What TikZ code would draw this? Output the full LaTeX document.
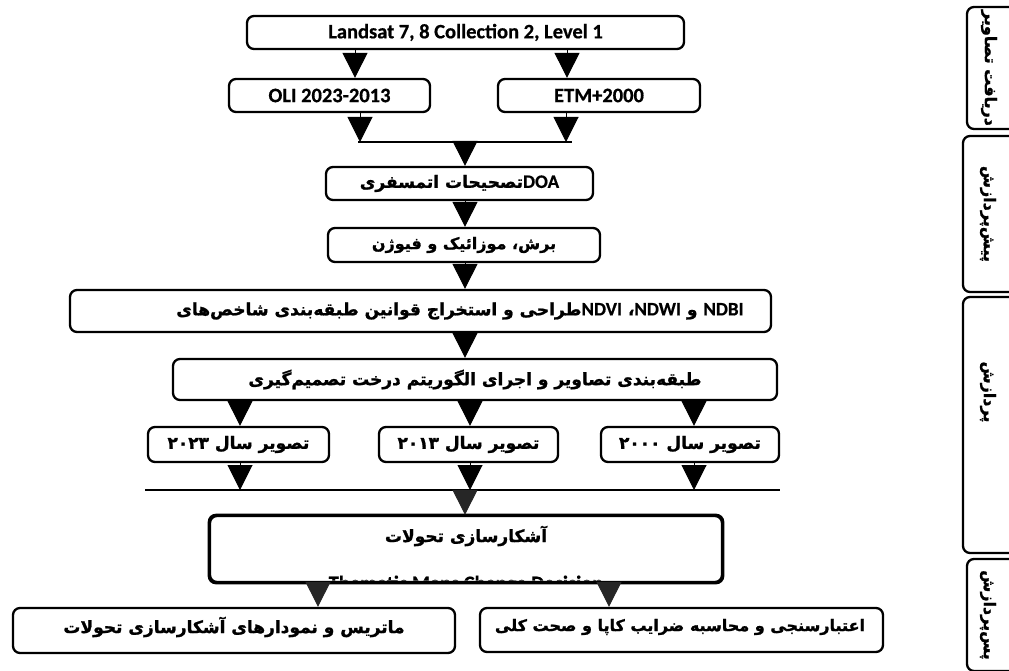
\documentclass[tikz,border=0pt]{standalone}
\usepackage{fontspec}
\setmainfont{Carlito}[BoldFeatures={FakeBold=0.6}]
\newfontfamily\fafont[Script=Arabic, BoldFeatures={FakeBold=1.3}]{DejaVu Sans}
\usetikzlibrary{arrows.meta}
\TeXXeTstate=1
\newcommand\myRL[1]{\beginR #1\endR}
\newcommand\lat[1]{{\normalfont\bfseries\fontsize{19}{22}\selectfont #1}}
\tikzset{
  box/.style={draw, line width=2.3pt, rounded corners=7pt, inner sep=0pt, fill=white},
  ltxt/.style={font=\bfseries\fontsize{20.5}{24}\selectfont},
  ptxt/.style={font=\fafont\bfseries\fontsize{17}{20}\selectfont, inner sep=0pt},
  ptxtsm/.style={font=\fafont\bfseries\fontsize{16}{19}\selectfont, inner sep=0pt},
  stxt/.style={font=\fafont\bfseries\fontsize{16}{19}\selectfont, inner sep=0pt},
  arr/.style={-{Triangle[length=25pt,width=25pt]}, line width=1pt},
  darr/.style={-{Triangle[length=25pt,width=25pt]}, line width=1pt, draw=black!85, fill=black!85},
  hline/.style={line width=2pt},
}
\begin{document}
\begin{tikzpicture}[x=1pt,y=-1pt]
\useasboundingbox (0,0) rectangle (1009,671);
\clip (0,0) rectangle (1009,671);

% ---------- column coordinates ----------
\coordinate (cA) at (355,0);
\coordinate (cB) at (567,0);
\coordinate (cC) at (360,0);
\coordinate (cD) at (566,0);
\coordinate (cM) at (465,0);
\coordinate (cY1) at (240,0);
\coordinate (cY2) at (470,0);
\coordinate (cY3) at (694,0);
\coordinate (cL) at (318,0);
\coordinate (cR) at (609,0);

% ---------- main boxes ----------
\node[box, ltxt, minimum width=437pt, minimum height=33pt] (land) at (465.5,32.5) {Landsat 7, 8 Collection 2, Level 1};
\node[box, ltxt, minimum width=201pt, minimum height=33pt] (oli) at (329.5,95.5) {OLI 2023-2013};
\node[box, ltxt, minimum width=202pt, minimum height=33pt] (etm) at (599,95.5) {ETM+2000};

\coordinate (m1) at (358,142);
\coordinate (m2) at (572,142);
\coordinate (m0) at (cM |- m1);
\coordinate (mo) at (cC |- m1);
\coordinate (me) at (cD |- m1);

\node[box, ptxt, minimum width=267pt, minimum height=33pt] (doa) at (459.5,183.5) {\myRL{\beginL\lat{DOA}\endL تصحیحات اتمسفری}};
\node[box, ptxtsm, minimum width=272pt, minimum height=34pt] (bor) at (464,245) {\myRL{برش، موزائیک و فیوژن}};
\node[box, minimum width=701pt, minimum height=42pt] (ndbi) at (420.5,311) {};
\node[ptxt] (ndbit) at (460,311) {\myRL{\beginL\lat{NDBI}\endL{} و \beginL\lat{NDWI}\endL، \beginL\lat{NDVI}\endL طراحی و استخراج قوانین طبقه^^^^200cبندی شاخص^^^^200cهای}};
\node[box, ptxt, minimum width=604pt, minimum height=41pt] (tab) at (475,379.5) {\myRL{طبقه^^^^200cبندی تصاویر و اجرای الگوریتم درخت تصمیم^^^^200cگیری}};

\node[box, ptxt, minimum width=181pt, minimum height=35pt] (y23) at (238.5,444.5) {\myRL{تصویر سال \beginL ۲۰۲۳\endL}};
\node[box, ptxt, minimum width=179pt, minimum height=35pt] (y13) at (468.5,444.5) {\myRL{تصویر سال \beginL ۲۰۱۳\endL}};
\node[box, ptxt, minimum width=178pt, minimum height=35pt] (y00) at (690,444.5) {\myRL{تصویر سال \beginL ۲۰۰۰\endL}};

\coordinate (n1) at (145,490);
\coordinate (n2) at (780,490);
\coordinate (n0) at (cM |- n1);
\coordinate (ny1) at (cY1 |- n1);
\coordinate (ny2) at (cY2 |- n1);
\coordinate (ny3) at (cY3 |- n1);

\node[box, minimum width=512pt, minimum height=66pt] (ash) at (466,549) {};
\node[ptxt] (asht) at (466,536) {\myRL{آشکارسازی تحولات}};
\begin{scope}
  \clip[rounded corners=6pt] (211,517) rectangle (721,580.5);
  \node[ltxt, anchor=base, inner sep=0pt] (thm) at (466,590) {Thematic Maps Change Decision};
\end{scope}
\draw[line width=2.3pt, rounded corners=7pt] (ash.north west) rectangle (ash.south east);

\node[box, minimum width=442pt, minimum height=45pt] (mat) at (234,630.5) {};
\node[ptxt] (matt) at (234,627) {\myRL{ماتریس و نمودارهای آشکارسازی تحولات}};
\node[box, minimum width=403pt, minimum height=44pt] (eta) at (681.5,630) {};
\node[ptxtsm] (etat) at (680,627) {\myRL{اعتبارسنجی و محاسبه ضرایب کاپا و صحت کلی}};

% ---------- side boxes ----------
\node[box, minimum width=70pt, minimum height=122pt] (s1) at (1002,68) {};
\node[stxt, rotate=-90] (s1t) at (989,68) {\myRL{دریافت تصاویر}};
\node[box, minimum width=76pt, minimum height=156pt] (s2) at (1001,214) {};
\node[stxt, rotate=-90] (s2t) at (988,214) {\myRL{پیش^^^^200cپردازش}};
\node[box, minimum width=76pt, minimum height=256pt] (s3) at (1001,425) {};
\node[stxt, rotate=-90] (s3t) at (988,392) {\myRL{پردازش}};
\node[box, minimum width=72pt, minimum height=112pt] (s4) at (1003,615) {};
\node[stxt, rotate=-90] (s4t) at (988,615) {\myRL{پس^^^^200cپردازش}};

% ---------- connectors ----------
\draw[arr] (cA |- land.south) -- (cA |- oli.north);
\draw[arr] (cB |- land.south) -- (cB |- etm.north);
\draw[arr] (cC |- oli.south) -- (mo);
\draw[arr] (cD |- etm.south) -- (me);
\draw[hline] (m1) -- (m2);
\draw[arr] (m0) -- (cM |- doa.north);
\draw[arr] (cM |- doa.south) -- (cM |- bor.north);
\draw[arr] (cM |- bor.south) -- (cM |- ndbi.north);
\draw[arr] (cM |- ndbi.south) -- (cM |- tab.north);
\draw[arr] (cY1 |- tab.south) -- (cY1 |- y23.north);
\draw[arr] (cY2 |- tab.south) -- (cY2 |- y13.north);
\draw[arr] (cY3 |- tab.south) -- (cY3 |- y00.north);
\draw[arr] (cY1 |- y23.south) -- (ny1);
\draw[arr] (cY2 |- y13.south) -- (ny2);
\draw[arr] (cY3 |- y00.south) -- (ny3);
\draw[hline] (n1) -- (n2);
\draw[darr] (n0) -- (cM |- ash.north);
\draw[darr] (cL |- ash.south) -- (cL |- mat.north);
\draw[darr] (cR |- ash.south) -- (cR |- eta.north);
\end{tikzpicture}
\end{document}
